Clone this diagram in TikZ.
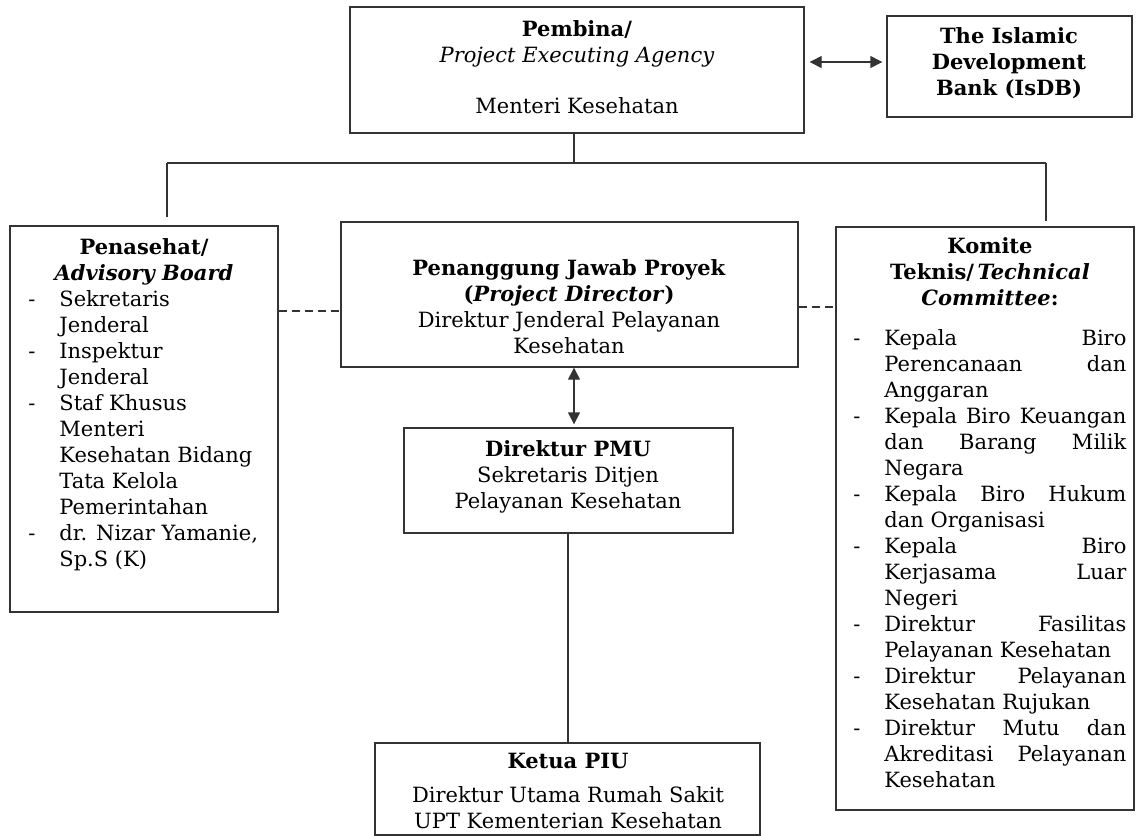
\documentclass[tikz,border=0pt]{standalone}
\usepackage{fontspec}
\setmainfont{DejaVu Serif}
\usetikzlibrary{arrows.meta,calc}
\hbadness=10000
\hfuzz=30pt

% list helpers: hanging dash, indent, justified line
\newcommand{\dsh}{\makebox[15.5pt][l]{-}}
\newcommand{\ind}{\hspace*{15.5pt}}
\newcommand{\jst}[1]{\makebox[121pt][s]{#1}}

\begin{document}
\begin{tikzpicture}[x=0.5pt,y=-0.5pt,
  box/.style={draw=black!80, line width=0.7pt, inner sep=0pt},
  txt/.style={inner sep=0pt, font=\fontsize{10.5}{13}\selectfont, align=center, anchor=north},
  lst/.style={inner sep=0pt, font=\fontsize{10.5}{13}\selectfont, align=left, anchor=north west},
  link/.style={draw=black!80, line width=0.7pt},
  dlink/.style={link, dash pattern=on 4pt off 2.5pt},
  biarrow/.style={link, {Triangle[length=6pt,width=6pt]}-{Triangle[length=6pt,width=6pt]}}
]
\useasboundingbox (0,0) rectangle (1137,836);

% boxes
\node[box, minimum width=227pt,   minimum height=63pt]   (pembina) at (577,70) {};
\node[box, minimum width=122.5pt, minimum height=50.5pt] (isdb)    at (1009.5,66.5) {};
\node[box, minimum width=134pt,   minimum height=193pt]  (adv)     at (144,419) {};
\node[box, minimum width=228.5pt, minimum height=72.5pt] (pj)      at (569.5,294.5) {};
\node[box, minimum width=149pt,   minimum height=291.5pt](km)      at (985,518.5) {};
\node[box, minimum width=164.5pt, minimum height=52.5pt] (pmu)     at (568.5,480.5) {};
\node[box, minimum width=192.5pt, minimum height=46pt]   (piu)     at (567.5,789) {};

% texts
\node[txt] (pembinaT) at (577,18) {\strut\textbf{Pembina/}\\\textit{Project Executing Agency}};
\node[txt] (pembinaS) at (577,95) {\strut Menteri Kesehatan};
\node[txt] (isdbT) at (1009,25) {\strut\textbf{The Islamic}\\\textbf{Development}\\\textbf{Bank (IsDB)}};
\node[txt] (advT) at (144,236) {\strut\textbf{Penasehat/}\\\textbf{\textit{Advisory Board}}};
\node[lst] (advL) at (28,288) {\strut\dsh Sekretaris\\
  \ind Jenderal\\
  \dsh Inspektur\\
  \ind Jenderal\\
  \dsh Staf Khusus\\
  \ind Menteri\\
  \ind Kesehatan Bidang\\
  \ind Tata Kelola\\
  \ind Pemerintahan\\
  \dsh dr. Nizar Yamanie,\\
  \ind Sp.S (K)};
\node[txt] (pjT) at (569,257) {\strut\textbf{Penanggung Jawab Proyek}\\\textbf{(\textit{Project Director})}\\Direktur Jenderal Pelayanan\\Kesehatan};
\node[txt] (kmT) at (990,235) {\strut\textbf{Komite}\\\textbf{Teknis/\,\textit{Technical}}\\\textbf{\textit{Committee}:}};
\node[lst] (kmL) at (853,327) {\strut\dsh\jst{Kepala Biro}\\
  \ind\jst{Perencanaan dan}\\
  \ind Anggaran\\
  \dsh\jst{Kepala Biro Keuangan}\\
  \ind\jst{dan Barang Milik}\\
  \ind Negara\\
  \dsh\jst{Kepala Biro Hukum}\\
  \ind dan Organisasi\\
  \dsh\jst{Kepala Biro}\\
  \ind\jst{Kerjasama Luar}\\
  \ind Negeri\\
  \dsh\jst{Direktur Fasilitas}\\
  \ind Pelayanan Kesehatan\\
  \dsh\jst{Direktur Pelayanan}\\
  \ind Kesehatan Rujukan\\
  \dsh\jst{Direktur Mutu dan}\\
  \ind\jst{Akreditasi Pelayanan}\\
  \ind Kesehatan};
\node[txt] (pmuT) at (568,438) {\strut\textbf{Direktur PMU}\\Sekretaris Ditjen\\Pelayanan Kesehatan};
\node[txt] (piuT) at (568,750) {\strut\textbf{Ketua PIU}};
\node[txt] (piuS) at (568,784) {\strut Direktur Utama Rumah Sakit\\UPT Kementerian Kesehatan};

% connectors
\coordinate (busL) at (167,163);
\coordinate (busR) at (1046,163);
\coordinate (busM) at (574,163);
\draw[link] (busL) -- (busR);
\draw[link] (busM |- pembina.south) -- (busM);
\draw[link, shorten >=4pt] (busL) -- (busL |- adv.north);
\draw[link, shorten >=2.5pt] (busR) -- (busR |- km.north);

\coordinate (dashL) at (0,311);
\coordinate (dashR) at (0,307);
\draw[dlink] (adv.east |- dashL) -- (pj.west |- dashL);
\draw[dlink] (pj.east |- dashR) -- (km.west |- dashR);

\coordinate (arrH) at (0,62);
\draw[biarrow, shorten <=2.5pt, shorten >=2pt] (pembina.east |- arrH) -- (isdb.west |- arrH);
\coordinate (arrV) at (574,0);
\draw[biarrow, shorten >=1.5pt] (arrV |- pj.south) -- (arrV |- pmu.north);
\coordinate (piuV) at (568,0);
\draw[link] (piuV |- pmu.south) -- (piuV |- piu.north);
\end{tikzpicture}
\end{document}
